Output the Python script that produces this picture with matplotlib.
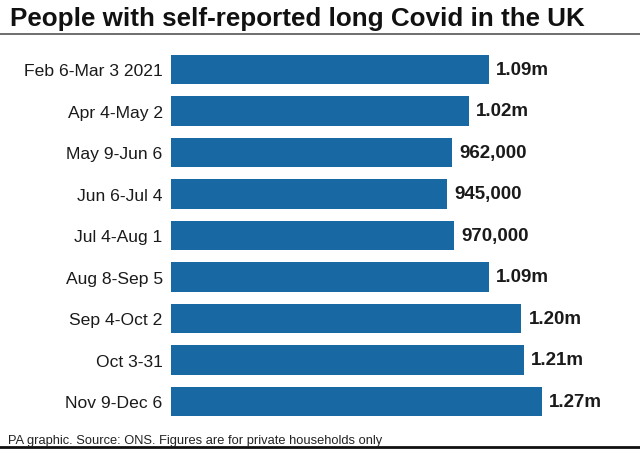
import matplotlib
matplotlib.use("Agg")
import matplotlib.pyplot as plt
from matplotlib.lines import Line2D

# data
periods = ["Feb 6-Mar 3 2021", "Apr 4-May 2", "May 9-Jun 6", "Jun 6-Jul 4",
           "Jul 4-Aug 1", "Aug 8-Sep 5", "Sep 4-Oct 2", "Oct 3-31", "Nov 9-Dec 6"]
people_m = [1.09, 1.02, 0.962, 0.945, 0.970, 1.09, 1.20, 1.21, 1.27]
value_labels = ["1.09m", "1.02m", "962,000", "945,000", "970,000",
                "1.09m", "1.20m", "1.21m", "1.27m"]

plt.rcParams['font.family'] = ['Liberation Sans', 'DejaVu Sans']

W, H = 640, 460
fig = plt.figure(figsize=(W / 100, H / 100), dpi=100)

# axes placed in pixel terms: bars start at x=171, rows span y=50..423
left, top, bottom = 171, 49.75, 423.25
ax = fig.add_axes([left / W, 1 - bottom / H, (W - left) / W, (bottom - top) / H])

ypos = list(range(len(periods)))
ax.barh(ypos, people_m, height=0.7, color="#1868a4")
ax.set_ylim(len(periods) - 0.5, -0.5)
ax.set_xlim(0, (W - left) / 292)

for y, v, lab in zip(ypos, people_m, value_labels):
    ax.text(v + 0.024, y, lab, va="center", ha="left", fontsize=13.5,
            fontweight="bold", color="#1a1a1a")

ax.set_yticks(ypos)
ax.set_yticklabels(periods, fontsize=12.6, color="#1a1a1a")
ax.tick_params(axis="y", length=0, pad=6)
ax.set_xticks([])
for s in ax.spines.values():
    s.set_visible(False)

# title, rules and footer
fig.text(10 / W, 1 - 19 / H, "People with self-reported long Covid in the UK",
         fontsize=18.7, fontweight="bold", va="center", ha="left", color="#111111")
fig.add_artist(Line2D([0, 1], [1 - 35 / H, 1 - 35 / H], color="#555555", lw=1.2))
fig.text(8 / W, 1 - 441 / H,
         "PA graphic. Source: ONS. Figures are for private households only",
         fontsize=9.3, va="center", ha="left", color="#222222")
fig.add_artist(Line2D([0, 1], [1 - 448 / H, 1 - 448 / H], color="#111111", lw=2))

fig.savefig("out.png", dpi=100)
